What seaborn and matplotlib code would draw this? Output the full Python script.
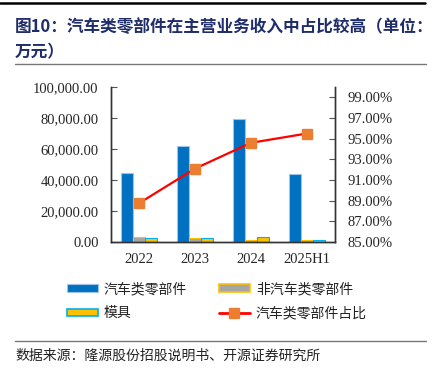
import numpy as np
import pandas as pd
import matplotlib
matplotlib.use("Agg")
import matplotlib.pyplot as plt
from matplotlib.lines import Line2D
import seaborn as sns

# data (unit: 万元)
years = ["2022", "2023", "2024", "2025H1"]
auto_parts = [44500, 61900, 79400, 43900]
non_auto_parts = [3200, 2400, 1500, 1100]
molds = [2600, 2600, 3000, 1200]
auto_share = [88.75, 92.1, 94.6, 95.5]

series_names = ["汽车类零部件", "非汽车类零部件", "模具"]
line_name = "汽车类零部件占比"
face_colors = ["#0070C0", "#A5A5A5", "#FFC000"]
edge_colors = ["#9DC3E6", "#FFC000", "#00B0F0"]

CJK = ["Noto Sans CJK SC", "DejaVu Sans"]
SERIF = "Liberation Serif"

df = pd.DataFrame({
    "year": np.repeat(years, 3),
    "kind": series_names * len(years),
    "value": np.ravel(np.column_stack([auto_parts, non_auto_parts, molds])),
})

sns.set_style("white")
plt.rcParams["font.family"] = CJK

fig = plt.figure(figsize=(4.36, 3.75), dpi=100)
ax = fig.add_axes([111 / 436, 1 - 242 / 375, 224 / 436, 155 / 375])

sns.barplot(data=df, x="year", y="value", hue="kind", order=years,
            hue_order=series_names, palette=face_colors, width=0.64,
            gap=0, saturation=1, legend=False, ax=ax)
for cont, ec in zip(ax.containers, edge_colors):
    for bar in cont:
        bar.set_edgecolor(ec)
        bar.set_linewidth(0.8)

ax.set_xlim(-0.5, len(years) - 0.5)
ax.set_ylim(0, 100000)
ax.set_yticks(np.arange(0, 100001, 20000))
ax.set_yticklabels([f"{v:,.2f}" for v in np.arange(0, 100001, 20000)],
                   family=SERIF, fontsize=10.5)
ax.set_xticks(range(len(years)))
ax.set_xticklabels(years, family=SERIF, fontsize=10.5)
ax.set_xticks(np.arange(0.5, len(years) - 1, 1), minor=True)
ax.tick_params(axis="x", which="major", length=0, pad=8)
ax.tick_params(axis="x", which="minor", direction="in", length=4, color="#555555")
ax.tick_params(axis="y", direction="in", length=4, pad=9, left=True, color="#555555")
ax.set_xlabel("")
ax.set_ylabel("")

ax2 = ax.twinx()
ax2.plot(range(len(years)), auto_share, color="#FF0000", lw=1.6,
         marker="s", markersize=6.5, markerfacecolor="#ED7D31",
         markeredgecolor="#ED7D31", zorder=5)
ax2.set_ylim(85, 100)
ax2.set_yticks(np.arange(85, 100, 2))
ax2.set_yticklabels([f"{v:.2f}%" for v in np.arange(85, 100, 2)],
                    family=SERIF, fontsize=10.5)
ax2.tick_params(axis="y", direction="in", length=4, pad=9, right=True, color="#555555")

for a in (ax, ax2):
    a.spines["top"].set_visible(False)
    for s in ("left", "right", "bottom"):
        a.spines[s].set_color("#333333")
        a.spines[s].set_linewidth(1)
    a.grid(False)

# legend
handles = [
    plt.Rectangle((0, 0), 1, 1, facecolor=face_colors[0], edgecolor=edge_colors[0], lw=0.8),
    plt.Rectangle((0, 0), 1, 1, facecolor=face_colors[2], edgecolor=edge_colors[2], lw=1.2),
    plt.Rectangle((0, 0), 1, 1, facecolor=face_colors[1], edgecolor=edge_colors[1], lw=1.2),
    Line2D([0], [0], color="#FF0000", lw=2, marker="s", markersize=7,
           markerfacecolor="#ED7D31", markeredgecolor="#ED7D31"),
]
labels = [series_names[0], series_names[2], series_names[1], line_name]
fig.legend(handles, labels, ncol=2, loc="upper left",
           bbox_to_anchor=(67 / 436, 1 - 282 / 375), bbox_transform=fig.transFigure,
           frameon=False, fontsize=10, handlelength=2.2, handleheight=0.5,
           handletextpad=0.45, columnspacing=2.3, labelspacing=0.75,
           borderpad=0, borderaxespad=0, labelcolor="#222222")

# title, rules and source
fig.add_artist(Line2D([0, 425 / 436], [1 - 3 / 375] * 2, color="black", lw=1.8,
                      transform=fig.transFigure))
fig.text(15 / 436, 1 - 27 / 375, "图10：汽车类零部件在主营业务收入中占比较高（单位：",
         fontsize=12, fontweight="bold", color="#1F2D6B", va="center")
fig.text(15 / 436, 1 - 52 / 375, "万元）",
         fontsize=12, fontweight="bold", color="#1F2D6B", va="center")
fig.add_artist(Line2D([15 / 436, 426 / 436], [1 - 63.5 / 375] * 2, color="#777777",
                      lw=1, transform=fig.transFigure))
fig.add_artist(Line2D([15 / 436, 426 / 436], [1 - 341 / 375] * 2, color="#777777",
                      lw=1, transform=fig.transFigure))
fig.text(15 / 436, 1 - 355.5 / 375, "数据来源：隆源股份招股说明书、开源证券研究所",
         fontsize=10, color="#222222", va="center")

fig.savefig("out.png", dpi=100)
